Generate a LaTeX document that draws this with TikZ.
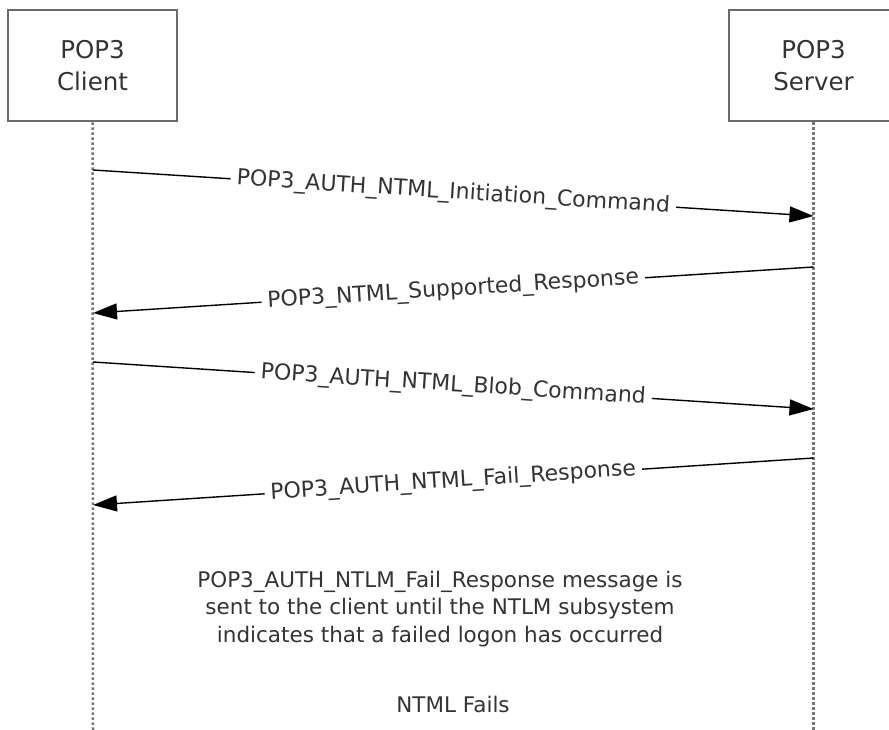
\documentclass[tikz,border=0pt]{standalone}
\usepackage{fontspec}
\setmainfont{DejaVu Sans}
\usetikzlibrary{arrows.meta}
\definecolor{txt}{HTML}{333333}
\definecolor{boxline}{HTML}{6A6A6A}
\definecolor{life}{HTML}{777777}
\tikzset{
  actor/.style={draw=boxline, line width=2.8pt, fill=white, minimum width=169pt, minimum height=111pt,
    align=center, text=txt, font=\fontsize{24.5}{32}\selectfont, inner sep=0pt},
  lifeline/.style={draw=life, line width=2.5pt, dash pattern=on 2.5pt off 2.5pt},
  msg/.style={draw=black, line width=1.4pt, -{Triangle[length=24pt,width=16pt]}},
  msglabel/.style={sloped, fill=white, inner xsep=6pt, inner ysep=1pt, text=txt,
    font=\fontsize{22}{26}\selectfont},
  note/.style={text=txt, align=center, font=\fontsize{21.5}{27.5}\selectfont, inner sep=0pt}
}
\begin{document}
\begin{tikzpicture}[x=1pt,y=-1pt]
\useasboundingbox (0,0) rectangle (889,730);
\begin{scope}
\clip (0,0) rectangle (889,730);
\node[actor] (client) at (92.5,65.5) {POP3\\Client};
\node[actor] (server) at (813.5,65.5) {POP3\\Server};
\end{scope}
\coordinate (cb) at (93,730);
\coordinate (sb) at (813.5,730);
\draw[lifeline] (client.south) -- (cb);
\draw[lifeline] (server.south) -- (sb);
% message anchors
\coordinate (c1) at (93,170);  \coordinate (s1) at (813.5,216);
\coordinate (s2) at (813.5,267); \coordinate (c2) at (93,313);
\coordinate (c3) at (93,362);  \coordinate (s3) at (813.5,409);
\coordinate (s4) at (813.5,458); \coordinate (c4) at (93,505);
\draw[msg] (c1) -- node[msglabel] (l1) {POP3\_AUTH\_NTML\_Initiation\_Command} (s1);
\draw[msg] (s2) -- node[msglabel] (l2) {POP3\_NTML\_Supported\_Response} (c2);
\draw[msg] (c3) -- node[msglabel] (l3) {POP3\_AUTH\_NTML\_Blob\_Command} (s3);
\draw[msg] (s4) -- node[msglabel] (l4) {POP3\_AUTH\_NTML\_Fail\_Response} (c4);
\node[note] (n1) at (440,609) {POP3\_AUTH\_NTLM\_Fail\_Response message is\\sent to the client until the NTLM subsystem\\indicates that a failed logon has occurred};
\node[note] (n2) at (453,704) {NTML Fails};
\end{tikzpicture}
\end{document}
